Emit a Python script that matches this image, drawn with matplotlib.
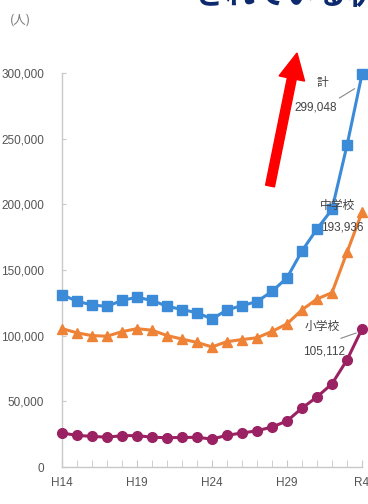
import matplotlib
matplotlib.use("Agg")
import matplotlib.pyplot as plt
from matplotlib.patches import FancyArrow
from matplotlib.transforms import IdentityTransform

plt.rcParams['font.family'] = ['Noto Sans CJK JP', 'DejaVu Sans']

years = ["H14", "H15", "H16", "H17", "H18", "H19", "H20", "H21", "H22", "H23", "H24",
         "H25", "H26", "H27", "H28", "H29", "H30", "R1", "R2", "R3", "R4"]
total = [131252, 126226, 123358, 122287, 126894, 129255, 126805, 122432, 119891, 117458, 112689,
         119617, 122897, 125991, 133683, 144031, 164528, 181272, 196127, 244940, 299048]
junior = [105383, 102149, 100040, 99578, 103069, 105328, 104153, 100105, 97428, 94836, 91446,
          95442, 97033, 98408, 103235, 108999, 119687, 127922, 132777, 163442, 193936]
elementary = [25869, 24077, 23318, 22709, 23825, 23927, 22652, 22327, 22463, 22622, 21243,
              24175, 25864, 27583, 30448, 35032, 44841, 53350, 63350, 81498, 105112]
xtick_labels = ["H14", "H19", "H24", "H29", "R4"]
yticks = [0, 50000, 100000, 150000, 200000, 250000, 300000]
ytick_labels = ["0", "50,000", "100,000", "150,000", "200,000", "250,000", "300,000"]

W, H = 368, 504
fig = plt.figure(figsize=(W / 100, H / 100), dpi=100)
ax = fig.add_axes([62 / W, (H - 467) / H, 300 / W, (467 - 73) / H])

x = list(range(len(years)))
c_total, c_jun, c_elem = "#3c8bd8", "#ee8236", "#9a2262"
ax.plot(x, total, color=c_total, lw=2.2, marker="s", ms=7.5, clip_on=False, zorder=3)
ax.plot(x, junior, color=c_jun, lw=2.2, marker="^", ms=7, clip_on=False, zorder=3)
ax.plot(x, elementary, color=c_elem, lw=2.2, marker="o", ms=7, clip_on=False, zorder=3)

ax.set_xlim(0, len(years) - 1)
ax.set_ylim(0, 300000)
for s in ["top", "right"]:
    ax.spines[s].set_visible(False)
for s in ["left", "bottom"]:
    ax.spines[s].set_color("#c8c8c8")
    ax.spines[s].set_linewidth(1.0)

ax.set_xticks(x, minor=True)
ax.set_xticks([years.index(l) for l in xtick_labels])
ax.set_xticklabels(xtick_labels)
ax.set_yticks(yticks)
ax.set_yticklabels(ytick_labels)
num_fam = ['Liberation Sans', 'DejaVu Sans']
for lab in ax.get_xticklabels() + ax.get_yticklabels():
    lab.set_fontfamily(num_fam)
    lab.set_fontsize(8.5)
    lab.set_color("#555555")
ax.tick_params(axis="y", direction="in", length=3, color="#c8c8c8", pad=13)
ax.tick_params(axis="x", which="both", direction="in", length=5, color="#c8c8c8", pad=7)

# unit label
fig.text(20 / W, 1 - 20 / H, "(人)", fontsize=9, color="#777777", ha="center", va="center")

# annotations
tc = "#444444"
ax.text(17.0, 293000, "計", fontsize=8.5, color=tc, ha="left", va="center")
ax.text(15.5, 274000, "299,048", fontsize=8.5, color=tc, ha="left", va="center", family=num_fam)
ax.plot([18.5, 19.5], [281000, 288000], color="#888888", lw=0.8)
ax.text(17.2, 199000, "中学校", fontsize=8.5, color=tc, ha="left", va="center")
ax.text(17.3, 182000, "193,936", fontsize=8.5, color=tc, ha="left", va="center", family=num_fam)
ax.text(16.2, 107000, "小学校", fontsize=8.5, color=tc, ha="left", va="center")
ax.text(16.1, 88000, "105,112", fontsize=8.5, color=tc, ha="left", va="center", family=num_fam)
ax.plot([18.6, 19.6], [98000, 102000], color="#888888", lw=0.8)

# red arrow (display pixel coords)
x0, y0 = 270, H - 186
x1, y1 = 297, H - 53
arrow = FancyArrow(x0, y0, x1 - x0, y1 - y0, width=9, head_width=26, head_length=26,
                   length_includes_head=True, color="#ff0000", transform=IdentityTransform())
fig.add_artist(arrow)

# cut-off heading at top
fig.text(195 / W, 1 + 4 / H, "されている状況", fontsize=22, color="#0d2a6e",
         fontweight="bold", ha="left", va="center")

fig.savefig("out.png", dpi=100)
